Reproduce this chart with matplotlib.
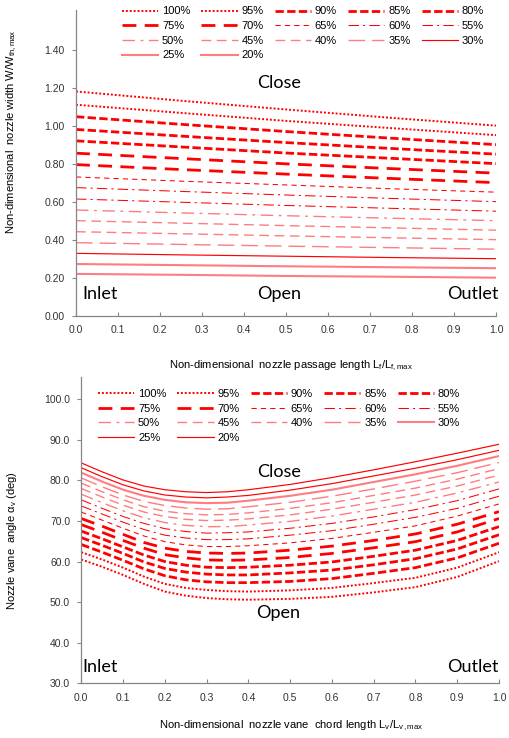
import numpy as np
import matplotlib
matplotlib.use('Agg')
import matplotlib.pyplot as plt
from matplotlib.ticker import FormatStrFormatter

plt.rcParams['font.family'] = ['Liberation Sans', 'DejaVu Sans']
plt.rcParams['mathtext.fontset'] = 'custom'
plt.rcParams['mathtext.rm'] = 'Liberation Sans'
plt.rcParams['mathtext.it'] = 'Liberation Sans:italic'

# vane opening, closed (100%) to open (20%) order as in the legend
opening = ['100%', '95%', '90%', '85%', '80%', '75%', '70%', '65%', '60%',
           '55%', '50%', '45%', '40%', '35%', '30%', '25%', '20%']

# nozzle width vs passage length
lf = [0.0, 0.25, 0.5, 0.75, 1.0]
width = [
    [1.180, 1.131, 1.085, 1.041, 1.00],
    [1.110, 1.067, 1.025, 0.987, 0.95],
    [1.047, 1.007, 0.969, 0.934, 0.90],
    [0.980, 0.945, 0.911, 0.880, 0.85],
    [0.920, 0.888, 0.856, 0.828, 0.80],
    [0.855, 0.827, 0.799, 0.774, 0.75],
    [0.795, 0.769, 0.745, 0.722, 0.70],
    [0.730, 0.708, 0.688, 0.668, 0.65],
    [0.674, 0.654, 0.635, 0.617, 0.60],
    [0.614, 0.597, 0.580, 0.565, 0.55],
    [0.556, 0.541, 0.526, 0.513, 0.50],
    [0.500, 0.487, 0.474, 0.462, 0.45],
    [0.442, 0.431, 0.420, 0.410, 0.40],
    [0.384, 0.375, 0.366, 0.358, 0.35],
    [0.328, 0.320, 0.313, 0.306, 0.30],
    [0.272, 0.266, 0.260, 0.255, 0.25],
    [0.220, 0.215, 0.209, 0.205, 0.20],
]

# nozzle vane angle vs chord length
lv = [0.0, 0.05, 0.1, 0.15, 0.2, 0.25, 0.3, 0.35, 0.4, 0.5, 0.6, 0.7, 0.8, 0.9, 1.0]
angle = [
    [60.5, 58.7, 56.7, 54.5, 52.6, 51.6, 51.0, 50.7, 50.6, 50.8, 51.3, 52.4, 53.7, 56.2, 60.1],
    [62.3, 60.5, 58.5, 56.3, 54.5, 53.5, 53.0, 52.7, 52.6, 52.9, 53.5, 54.7, 56.0, 58.5, 62.3],
    [64.2, 62.3, 60.3, 58.2, 56.5, 55.5, 55.0, 54.8, 54.8, 55.1, 55.8, 57.1, 58.5, 60.9, 64.5],
    [65.9, 64.0, 62.0, 59.9, 58.3, 57.4, 56.9, 56.7, 56.7, 57.2, 57.9, 59.2, 60.7, 63.1, 66.6],
    [67.5, 65.6, 63.6, 61.6, 60.0, 59.1, 58.6, 58.5, 58.6, 59.1, 59.9, 61.3, 62.8, 65.2, 68.6],
    [69.1, 67.2, 65.2, 63.3, 61.7, 60.9, 60.4, 60.3, 60.4, 61.0, 62.0, 63.4, 64.9, 67.3, 70.6],
    [70.6, 68.7, 66.7, 64.7, 63.3, 62.5, 62.1, 62.0, 62.1, 62.8, 63.8, 65.2, 66.8, 69.2, 72.3],
    [72.2, 70.2, 68.2, 66.3, 64.9, 64.1, 63.7, 63.7, 63.9, 64.6, 65.7, 67.2, 68.8, 71.2, 74.2],
    [73.7, 71.7, 69.7, 67.9, 66.5, 65.8, 65.4, 65.4, 65.6, 66.5, 67.6, 69.2, 70.9, 73.1, 76.1],
    [75.2, 73.1, 71.1, 69.4, 68.1, 67.4, 67.0, 67.1, 67.3, 68.2, 69.4, 71.0, 72.8, 75.0, 77.9],
    [76.6, 74.5, 72.5, 70.8, 69.6, 68.9, 68.6, 68.6, 69.0, 69.9, 71.2, 72.9, 74.6, 76.9, 79.6],
    [78.0, 75.9, 73.9, 72.2, 71.1, 70.4, 70.1, 70.2, 70.5, 71.5, 72.9, 74.6, 76.4, 78.6, 81.3],
    [79.3, 77.2, 75.2, 73.5, 72.4, 71.8, 71.5, 71.6, 72.0, 73.1, 74.5, 76.3, 78.1, 80.3, 82.9],
    [80.6, 78.4, 76.4, 74.8, 73.8, 73.2, 72.9, 73.0, 73.5, 74.6, 76.1, 77.9, 79.8, 81.9, 84.4],
    [81.9, 79.7, 77.7, 76.2, 75.2, 74.6, 74.4, 74.5, 75.0, 76.2, 77.7, 79.6, 81.5, 83.6, 86.0],
    [83.1, 80.9, 78.9, 77.4, 76.4, 75.9, 75.7, 75.9, 76.3, 77.6, 79.2, 81.1, 83.0, 85.1, 87.4],
    [84.3, 82.1, 80.1, 78.6, 77.7, 77.2, 77.0, 77.2, 77.7, 79.0, 80.7, 82.6, 84.6, 86.7, 88.9],
]

RED = '#ff0000'
PINK = '#ff7c80'
GREY = '#868686'


def line_style(i, top):
    if i <= 1:
        return dict(color=RED, lw=1.4, ls=(0, (1, 1)))
    if i <= 4:
        return dict(color=RED, lw=2.0, ls=(0, (3, 1.2)))
    if i <= 6:
        return dict(color=RED, lw=2.0, ls=(0, (5, 3)))
    if i == 7:
        return dict(color=RED, lw=0.75, ls=(0, (5, 4)))
    if i <= 9:
        return dict(color=RED, lw=0.75, ls=(0, (10, 4, 2, 4)))
    if i == 10:
        return dict(color=PINK, lw=1.0, ls=(0, (9, 4, 2, 4)))
    if i <= 12:
        return dict(color=PINK, lw=1.0, ls=(0, (7, 4)))
    if i == 13:
        return dict(color=PINK, lw=1.0, ls=(0, (12, 5)))
    thin = dict(color=RED, lw=0.85, ls='-')
    thick = dict(color=PINK, lw=1.5, ls='-')
    if i == 14:
        return thin if top else thick
    return thick if top else thin


def style_axes(ax):
    for s in ['top', 'right']:
        ax.spines[s].set_visible(False)
    for s in ['left', 'bottom']:
        ax.spines[s].set_color(GREY)
        ax.spines[s].set_linewidth(0.9)
    ax.tick_params(axis='x', direction='in', length=3, color=GREY,
                   labelsize=7.5, labelcolor='#333333', pad=7)
    ax.tick_params(axis='y', direction='out', length=3, color=GREY,
                   labelsize=7.5, labelcolor='#333333', pad=5)
    ax.set_xlim(0, 1)
    ax.set_xticks(np.arange(0, 1.01, 0.1))
    ax.xaxis.set_major_formatter(FormatStrFormatter('%.1f'))


def add_legend(ax, handles, x, y):
    # matplotlib fills legend columns first, reference fills rows first
    order = [0, 5, 10, 15, 1, 6, 11, 16, 2, 7, 12, 3, 8, 13, 4, 9, 14]
    ax.legend([handles[k] for k in order], [opening[k] for k in order],
              ncol=5, loc='upper left', bbox_to_anchor=(x, y),
              bbox_transform=fig.transFigure, frameon=False, fontsize=8,
              handlelength=3.25, handletextpad=0.35, columnspacing=1.0,
              labelspacing=0.42, borderpad=0, borderaxespad=0)


fig = plt.figure(figsize=(5.1, 7.38), dpi=100)

# ---- top: nozzle width
ax1 = fig.add_axes([76 / 510, 1 - 315.7 / 738, 420 / 510, 306 / 738])
h1 = []
for i in range(len(opening)):
    ln, = ax1.plot(lf, width[i], **line_style(i, True))
    h1.append(ln)
style_axes(ax1)
ax1.set_ylim(0, 1.61)
ax1.set_yticks(np.arange(0, 1.41, 0.2))
ax1.yaxis.set_major_formatter(FormatStrFormatter('%.2f'))
ax1.set_ylabel(r'Non-dimensional  nozzle width W/W$_{\rm th,max}$', fontsize=8)
ax1.yaxis.set_label_coords(-0.136, 0.60)
ax1.set_xlabel(r'Non-dimensional  nozzle passage length L$_{\rm f}$/L$_{\rm f,max}$', fontsize=8)
ax1.xaxis.set_label_coords(0.511, -0.14)
add_legend(ax1, h1, 122 / 510, 1 - 6.5 / 738)

tf = dict(family='Lato', fontsize=13, color='black')
ax1.text(0.483, 1.226, 'Close', ha='center', va='center', **tf)
ax1.text(0.483, 0.114, 'Open', ha='center', va='center', **tf)
ax1.text(0.016, 0.114, 'Inlet', ha='left', va='center', **tf)
ax1.text(1.005, 0.114, 'Outlet', ha='right', va='center', **tf)

# ---- bottom: vane angle
ax2 = fig.add_axes([81.3 / 510, 1 - 683.3 / 738, 417.7 / 510, 306 / 738])
h2 = []
for i in range(len(opening)):
    ln, = ax2.plot(lv, angle[i], **line_style(i, False))
    h2.append(ln)
style_axes(ax2)
ax2.set_ylim(30, 105.4)
ax2.set_yticks(np.arange(30, 101, 10))
ax2.yaxis.set_major_formatter(FormatStrFormatter('%.1f'))
ax2.set_ylabel('Nozzle vane  angle α$_{\\rm v}$ (deg)', fontsize=8)
ax2.yaxis.set_label_coords(-0.149, 0.465)
ax2.set_xlabel(r'Non-dimensional  nozzle vane  chord length L$_{\rm v}$/L$_{\rm v\,,max}$', fontsize=8)
ax2.xaxis.set_label_coords(0.503, -0.115)
add_legend(ax2, h2, 98 / 510, 1 - 389 / 738)

ax2.text(0.473, 82.1, 'Close', ha='center', va='center', **tf)
ax2.text(0.471, 47.4, 'Open', ha='center', va='center', **tf)
ax2.text(0.003, 34.1, 'Inlet', ha='left', va='center', **tf)
ax2.text(0.998, 34.1, 'Outlet', ha='right', va='center', **tf)

fig.savefig('out.png', dpi=100)
